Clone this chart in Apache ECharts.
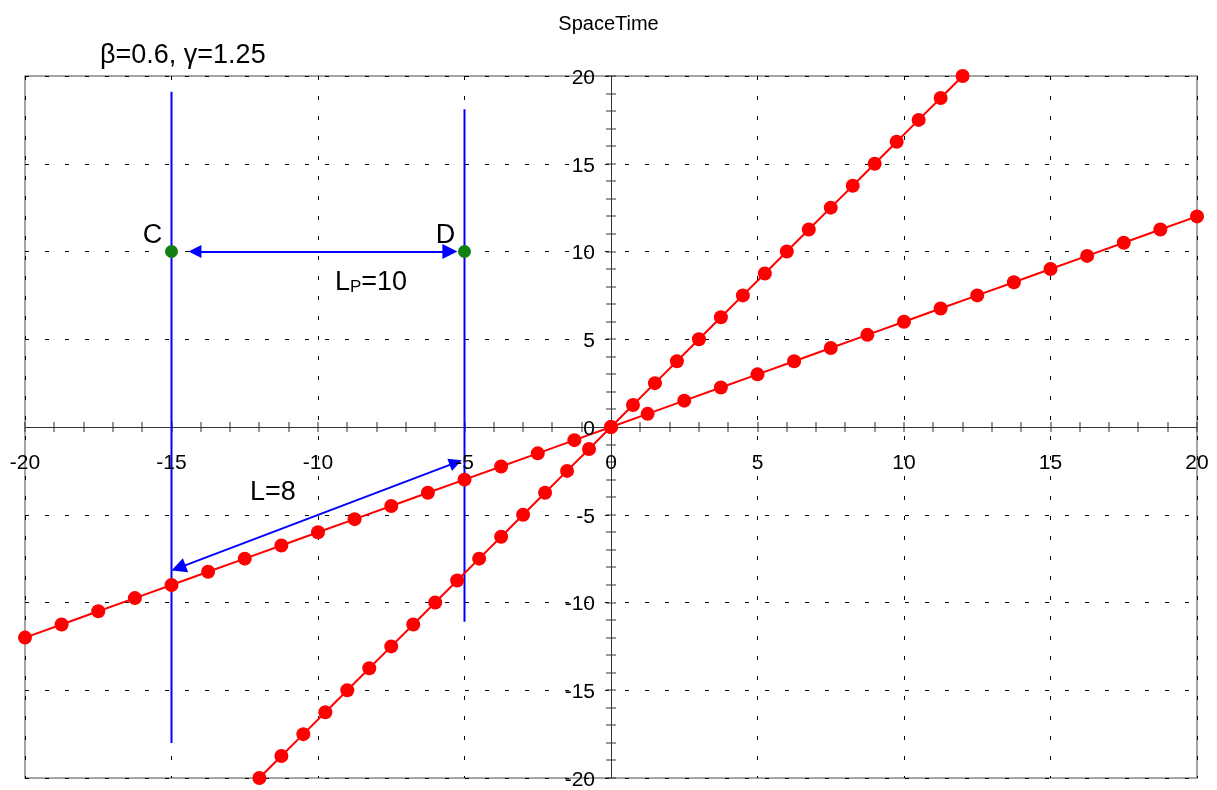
<!DOCTYPE html>
<html><head><meta charset="utf-8">
<script src="https://cdn.jsdelivr.net/npm/echarts@6/dist/echarts.min.js"></script>
<style>html,body{margin:0;padding:0;background:#fff}#c{width:1217px;height:790px}</style>
</head><body><div id="c"></div>
<script>
// Red world lines (moving frame axes): t' axis (steep) and x' axis (shallow)
const steepX = [-12, -11.25, -10.5, -9.75, -9, -8.25, -7.5, -6.75, -6, -5.25, -4.5, -3.75, -3, -2.25, -1.5, -0.75, 0, 0.75, 1.5, 2.25, 3, 3.75, 4.5, 5.25, 6, 6.75, 7.5, 8.25, 9, 9.75, 10.5, 11.25, 12];
const steepY = [-20, -18.75, -17.5, -16.25, -15, -13.75, -12.5, -11.25, -10, -8.75, -7.5, -6.25, -5, -3.75, -2.5, -1.25, 0, 1.25, 2.5, 3.75, 5, 6.25, 7.5, 8.75, 10, 11.25, 12.5, 13.75, 15, 16.25, 17.5, 18.75, 20];
const shallowX = [-20, -18.75, -17.5, -16.25, -15, -13.75, -12.5, -11.25, -10, -8.75, -7.5, -6.25, -5, -3.75, -2.5, -1.25, 0, 1.25, 2.5, 3.75, 5, 6.25, 7.5, 8.75, 10, 11.25, 12.5, 13.75, 15, 16.25, 17.5, 18.75, 20];
const shallowY = [-12, -11.25, -10.5, -9.75, -9, -8.25, -7.5, -6.75, -6, -5.25, -4.5, -3.75, -3, -2.25, -1.5, -0.75, 0, 0.75, 1.5, 2.25, 3, 3.75, 4.5, 5.25, 6, 6.75, 7.5, 8.25, 9, 9.75, 10.5, 11.25, 12];
// Events C and D
const eventsCD = [[-15, 10], [-5, 10]];
const eventLabels = ['C', 'D'];
// Blue vertical world lines of rod ends
const worldLineC = [[-15, 19.1], [-15, -18]];
const worldLineD = [[-5, 18.1], [-5, -11.1]];
// Measurement arrows
const arrowLp = [[-14.2, 10], [-5.5, 10]];
const arrowL = [[-5.3, -2.03], [-14.76, -8.03]];
// Annotation anchors
const lpLabelPos = [-8.19, 8.32];
const lLabelPos = [-11.54, -3.76];
// Axis range, ticks (every 1) and labelled ticks (every 5)
const axisMin = -20, axisMax = 20;
const tickValues = [-20, -19, -18, -17, -16, -15, -14, -13, -12, -11, -10, -9, -8, -7, -6, -5, -4, -3, -2, -1, 0, 1, 2, 3, 4, 5, 6, 7, 8, 9, 10, 11, 12, 13, 14, 15, 16, 17, 18, 19, 20];
const labelValues = [-20, -15, -10, -5, 0, 5, 10, 15, 20];
const tickLabels = ['-20', '-15', '-10', '-5', '0', '5', '10', '15', '20'];
const titleText = 'SpaceTime';
const paramText = 'β=0.6, γ=1.25';

const FONT = '"Liberation Sans", Arial, Helvetica, sans-serif';
const AXC = '#333';

function axis() {
  return {
    type: 'value', min: axisMin, max: axisMax, interval: 5,
    axisLine: { show: false }, axisTick: { show: false }, minorTick: { show: false }, axisLabel: { show: false },
    splitLine: { show: true, lineStyle: { color: '#000', width: 1, type: [4, 16] } },
    minorSplitLine: { show: false }
  };
}

const chart = echarts.init(document.getElementById('c'), null, { renderer: 'canvas' });
chart.setOption({
  animation: false,
  backgroundColor: '#fff',
  title: { text: titleText, left: 'center', top: 9, textStyle: { fontSize: 20, fontWeight: 'normal', color: '#000', fontFamily: FONT } },
  graphic: [{ type: 'text', left: 100, top: 42, style: { text: paramText, fontSize: 27, fontFamily: FONT, fill: '#000' } }],
  grid: { left: 25, right: 20, top: 76, bottom: 12, show: true, borderColor: '#888', borderWidth: 1.5, containLabel: false, outerBoundsMode: 'none' },
  xAxis: axis(),
  yAxis: axis(),
  series: [
    // Axis lines through the origin with crossing ticks
    { type: 'custom', coordinateSystem: 'cartesian2d', silent: true, z: 1, clip: false,
      data: tickValues.map(v => [v, 0]),
      renderItem: (params, api) => {
        const v = api.value(0);
        const px = api.coord([v, 0]);
        const py = api.coord([0, v]);
        const ch = [
          { type: 'rect', shape: { x: Math.round(px[0]) - 0.5, y: Math.round(px[1]) - 5, width: 1, height: 10 }, style: { fill: AXC } },
          { type: 'rect', shape: { x: Math.round(py[0]) - 5, y: Math.round(py[1]) - 0.5, width: 10, height: 1 }, style: { fill: AXC } }
        ];
        if (params.dataIndex === 0) {
          const xa = api.coord([axisMin, 0]), xb = api.coord([axisMax, 0]);
          const ya = api.coord([0, axisMin]), yb = api.coord([0, axisMax]);
          ch.push({ type: 'line', shape: { x1: xa[0], y1: Math.round(xa[1]) + 0.5, x2: xb[0], y2: Math.round(xb[1]) + 0.5 }, style: { stroke: AXC, lineWidth: 1 } });
          ch.push({ type: 'line', shape: { x1: Math.round(ya[0]) + 0.5, y1: ya[1], x2: Math.round(yb[0]) + 0.5, y2: yb[1] }, style: { stroke: AXC, lineWidth: 1 } });
        }
        return { type: 'group', children: ch };
      } },
    // Tick labels
    { type: 'custom', coordinateSystem: 'cartesian2d', silent: true, z: 7, clip: false,
      data: labelValues.map(v => [v, 0]),
      renderItem: (params, api) => {
        const v = api.value(0);
        const txt = tickLabels[params.dataIndex];
        const px = api.coord([v, 0]);
        const py = api.coord([0, v]);
        return { type: 'group', children: [
          { type: 'text', x: px[0], y: px[1] + 36, style: { text: txt, fontSize: 21, fontFamily: FONT, fill: '#000', align: 'center', verticalAlign: 'middle' } },
          { type: 'text', x: py[0] - 16, y: py[1] + 2, style: { text: txt, fontSize: 21, fontFamily: FONT, fill: '#000', align: 'right', verticalAlign: 'middle' } }
        ] };
      } },
    { type: 'line', data: worldLineC, showSymbol: false, symbol: 'none', lineStyle: { color: '#0000ff', width: 2 }, z: 2 },
    { type: 'line', data: worldLineD, showSymbol: false, symbol: 'none', lineStyle: { color: '#0000ff', width: 2 }, z: 2 },
    { type: 'line', data: steepX.map((x, i) => [x, steepY[i]]), symbol: 'circle', symbolSize: 14, showAllSymbol: true,
      itemStyle: { color: '#ff0000', opacity: 1 }, lineStyle: { color: '#ff0000', width: 2 }, z: 3 },
    { type: 'line', data: shallowX.map((x, i) => [x, shallowY[i]]), symbol: 'circle', symbolSize: 14, showAllSymbol: true,
      itemStyle: { color: '#ff0000', opacity: 1 }, lineStyle: { color: '#ff0000', width: 2 }, z: 3 },
    { type: 'lines', coordinateSystem: 'cartesian2d', symbol: ['triangle', 'triangle'], symbolSize: [13, 15],
      lineStyle: { color: '#0000ff', width: 2, opacity: 1 }, itemStyle: { color: '#0000ff' },
      data: [{ coords: arrowLp }, { coords: arrowL }], z: 4 },
    { type: 'scatter', data: eventsCD, symbolSize: 13, itemStyle: { color: '#128012', opacity: 1 }, z: 5,
      label: { show: true, position: 'inside', color: '#000', fontSize: 27, fontFamily: FONT,
        formatter: p => eventLabels[p.dataIndex], offset: [-19, -16] } },
    { type: 'scatter', data: [lpLabelPos], symbolSize: 1, itemStyle: { opacity: 1, color: 'rgba(0,0,0,0)' }, z: 6, silent: true,
      label: { show: true, position: 'inside', formatter: '{a|L}{b|P}{a|=10}', opacity: 1,
        rich: { a: { fontSize: 27, fontFamily: FONT, color: '#000', verticalAlign: 'bottom', lineHeight: 30 },
                b: { fontSize: 17, fontFamily: FONT, color: '#000', verticalAlign: 'bottom', lineHeight: 20 } } } },
    { type: 'scatter', data: [lLabelPos], symbolSize: 1, itemStyle: { opacity: 1, color: 'rgba(0,0,0,0)' }, z: 6, silent: true,
      label: { show: true, position: 'inside', formatter: 'L=8', fontSize: 27, fontFamily: FONT, color: '#000', opacity: 1 } }
  ]
});
</script></body></html>
